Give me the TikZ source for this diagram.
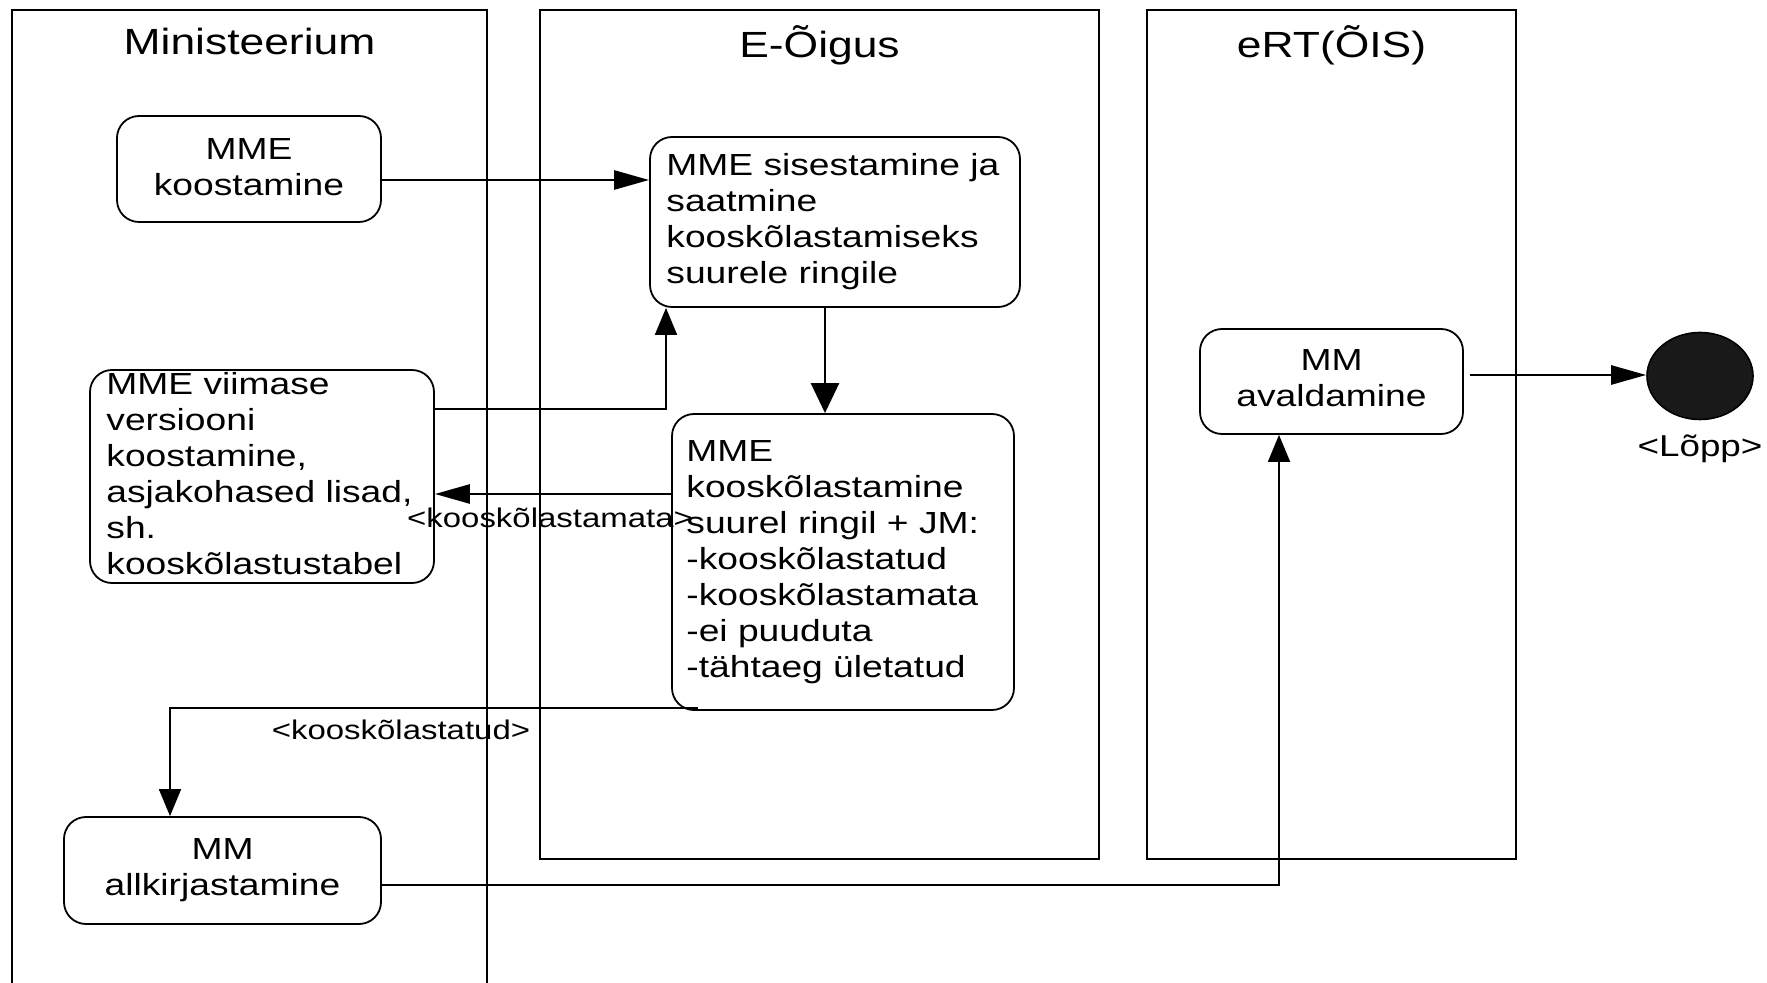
\documentclass[tikz,border=0pt]{standalone}
\usepackage{fontspec}
\setmainfont{Liberation Sans}
\usepackage{graphicx}
\usetikzlibrary{arrows.meta,shapes.geometric}
\newcommand\stx[3]{\scalebox{1.22}[1]{\fontsize{#1}{18}\selectfont\begin{tabular}{@{}#2@{}}#3\end{tabular}}}
\begin{document}
\begin{tikzpicture}[x=0.5pt,y=-0.5pt,
  lane/.style={draw=black,line width=1.15pt},
  actbox/.style={draw=black,line width=0.9pt,rounded corners=11pt,inner sep=0pt,rectangle},
  txt/.style={inner sep=0pt},
  thickh/.style={line width=1.3pt,-{Triangle[length=17.5pt,width=9.5pt]}},
  thickv/.style={line width=1.3pt,-{Triangle[length=15pt,width=14pt]}},
  thinv/.style={line width=0.9pt,-{Triangle[length=13.5pt,width=11pt]}}]
\useasboundingbox (0,0) rectangle (1767,983);
% lanes
\draw[lane] (12,983) -- (12,10) -- (487,10) -- (487,983);
\draw[lane] (540,10) rectangle (1099,859);
\draw[lane] (1147,10) rectangle (1516,859);
\node[txt] (h1) at (249.5,47) {\stx{18.2}{c}{Ministeerium}};
\node[txt] (h2) at (819.5,47) {\stx{18.2}{c}{E-Õigus}};
\node[txt] (h3) at (1331.5,47) {\stx{18.2}{c}{eRT(ÕIS)}};
% boxes
\node[actbox,minimum width=132pt,minimum height=53pt] (koost) at (249,169) {};
\node[txt] (tkoost) at (249,170) {\stx{15.25}{c}{MME\\koostamine}};
\node[actbox,minimum width=185pt,minimum height=85pt] (sisest) at (835,222) {};
\node[txt,anchor=west] (tsisest) at (666,222) {\stx{15.25}{l}{MME sisestamine ja\\saatmine\\kooskõlastamiseks\\suurele ringile}};
\node[actbox,minimum width=172pt,minimum height=106.5pt] (viim) at (262,476.5) {};
\node[txt,anchor=west] (tviim) at (106,477) {\stx{15.25}{l}{MME viimase\\versiooni\\koostamine,\\asjakohased lisad,\\sh.\\kooskõlastustabel}};
\node[actbox,minimum width=171pt,minimum height=148pt] (kook) at (843,562) {};
\node[txt,anchor=west] (tkook) at (686,562) {\stx{15.25}{l}{MME\\kooskõlastamine\\suurel ringil + JM:\\-kooskõlastatud\\-kooskõlastamata\\-ei puuduta\\-tähtaeg ületatud}};
\node[actbox,minimum width=158.5pt,minimum height=53.5pt] (allk) at (222.5,870.5) {};
\node[txt] (tallk) at (222.5,870) {\stx{15.25}{c}{MM\\allkirjastamine}};
\node[actbox,minimum width=131.5pt,minimum height=52.5pt] (aval) at (1331.5,381.5) {};
\node[txt] (taval) at (1331.5,381) {\stx{15.25}{c}{MM\\avaldamine}};
\node[ellipse,draw=black,line width=0.8pt,fill=black!90,minimum width=53pt,minimum height=43.5pt,inner sep=0pt] (lopp) at (1700,376) {};
\node[txt] (tlopp) at (1700,449) {\stx{15.1}{c}{<Lõpp>}};
% connectors
\coordinate (c1) at ([yshift=-5.5pt]koost.east);
\draw[thickh] (c1) -- (c1 -| sisest.west);
\coordinate (c2) at ([xshift=-5pt]sisest.south);
\draw[thickv] (c2) -- (c2 |- kook.north);
\coordinate (c3) at ([yshift=34pt]kook.west);
\draw[thickh] (c3) -- (c3 -| viim.east);
\node[txt] (l1) at (550,520) {\stx{13.5}{c}{<kooskõlastamata>}};
\coordinate (c4) at ([yshift=33.75pt]viim.east);
\coordinate (c5) at ([xshift=-84.5pt]sisest.south);
\draw[thinv] (c4) -| (c5);
\coordinate (c6) at ([xshift=13.5pt,yshift=1.5pt]kook.south west);
\coordinate (c7) at ([xshift=-26.25pt]allk.north);
\draw[thinv] (c6) -| (c7);
\node[txt] (l2) at (401,732) {\stx{13.5}{c}{<kooskõlastatud>}};
\coordinate (c8) at ([yshift=-7.25pt]allk.east);
\coordinate (c9) at ([xshift=-26.25pt]aval.south);
\draw[thinv] (c8) -| (c9);
\coordinate (c10) at ([xshift=3pt,yshift=3.25pt]aval.east);
\draw[thickh] (c10) -- (c10 -| lopp.west);
\end{tikzpicture}
\end{document}
